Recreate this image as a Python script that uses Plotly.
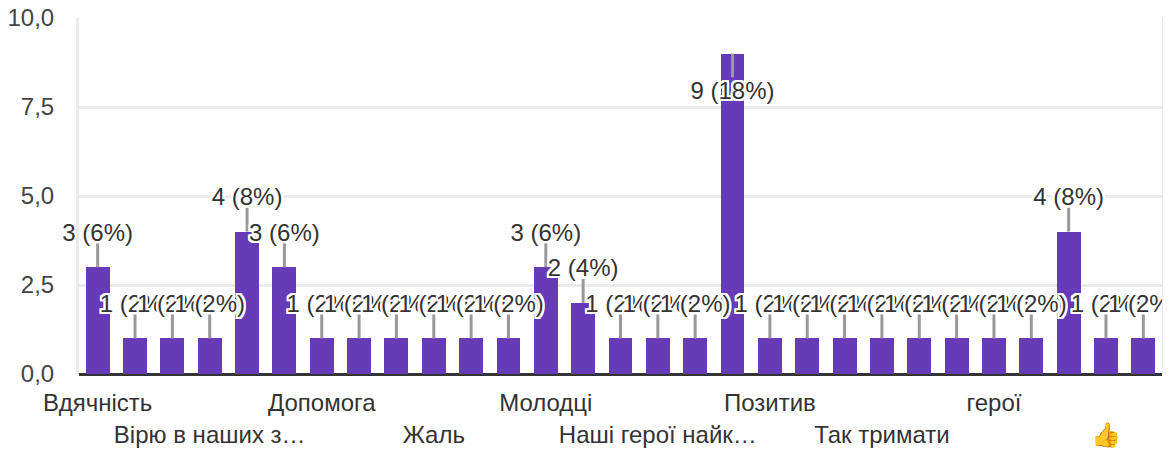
import plotly.graph_objects as go

values = [3, 1, 1, 1, 4, 3, 1, 1, 1, 1, 1, 1, 3, 2, 1, 1, 1, 9, 1, 1, 1, 1, 1, 1, 1, 1, 4, 1, 1]
percents = [6, 2, 2, 2, 8, 6, 2, 2, 2, 2, 2, 2, 6, 4, 2, 2, 2, 18, 2, 2, 2, 2, 2, 2, 2, 2, 8, 2, 2]
positions = list(range(len(values)))
row1_ticks = [0, 6, 12, 18, 24]
row1_labels = ["Вдячність", "Допомога", "Молодці", "Позитив", "герої"]
row2_ticks = [3, 9, 15, 21, 27]
row2_labels = ["Вірю в наших з…", "Жаль", "Наші герої найк…", "Так тримати", "👍"]
y_ticks = [0, 2.5, 5, 7.5, 10]
y_labels = ["0,0", "2,5", "5,0", "7,5", "10,0"]

LEAD = 0.67
TEXT_DROP = 0.09
FONT = "Liberation Sans, Arial, sans-serif"
halo = ",".join(f"{a}px {b}px 0 #fff" for a in (-2, -1, 0, 1, 2) for b in (-2, -1, 0, 1, 2))

labels = [f"{v} ({p}%)" for v, p in zip(values, percents)]
inside = [v + LEAD > 9.5 for v in values]
label_y = [(v - LEAD if i else v + LEAD) - TEXT_DROP for v, i in zip(values, inside)]
label_pos = ["bottom center" if i else "top center" for i in inside]

fig = go.Figure()
fig.add_bar(x=positions, y=values, width=0.64, marker=dict(color="#673ab7", line_width=0),
            showlegend=False, hoverinfo="skip")
fig.add_scatter(x=positions, y=values, mode="markers", marker=dict(size=1, opacity=0),
                error_y=dict(type="data", symmetric=False,
                             array=[0 if i else LEAD for i in inside],
                             arrayminus=[LEAD if i else 0 for i in inside],
                             color="#999999", thickness=3, width=0),
                showlegend=False, hoverinfo="skip")
fig.add_scatter(x=positions, y=label_y, mode="text", text=labels, textposition=label_pos,
                textfont=dict(size=24, color="#333333", family=FONT, shadow=halo),
                cliponaxis=False, showlegend=False, hoverinfo="skip")
fig.add_scatter(x=[None], y=[None], xaxis="x2", mode="markers", showlegend=False, hoverinfo="skip")

fig.update_layout(
    width=1171, height=454, autosize=False,
    margin=dict(l=71, r=17, t=10, b=88),
    paper_bgcolor="#fff", plot_bgcolor="#fff",
    font=dict(family=FONT, size=24, color="#333333"),
    bargap=0,
    xaxis=dict(range=[-0.5, 28.5], tickmode="array", tickvals=row1_ticks, ticktext=row1_labels,
               showgrid=False, zeroline=False, showline=False, ticks="", ticklabelstandoff=12,
               tickangle=0, automargin=False),
    xaxis2=dict(range=[-0.5, 28.5], overlaying="x", anchor="y", side="bottom",
                tickmode="array", tickvals=row2_ticks, ticktext=row2_labels,
                showgrid=False, zeroline=False, showline=False, ticks="", ticklabelstandoff=44,
                tickangle=0, automargin=False),
    yaxis=dict(range=[0, 10], tickmode="array", tickvals=y_ticks, ticktext=y_labels,
               gridcolor="#ebebeb", gridwidth=3, zeroline=True, zerolinecolor="#333333",
               zerolinewidth=3, showline=True, linecolor="#ebebeb", linewidth=3, mirror=True,
               ticks="", ticklabelstandoff=17, tickfont=dict(color="#444444"), automargin=False,
               ticklabeloverflow="allow"),
)
fig.write_html("out.html")
